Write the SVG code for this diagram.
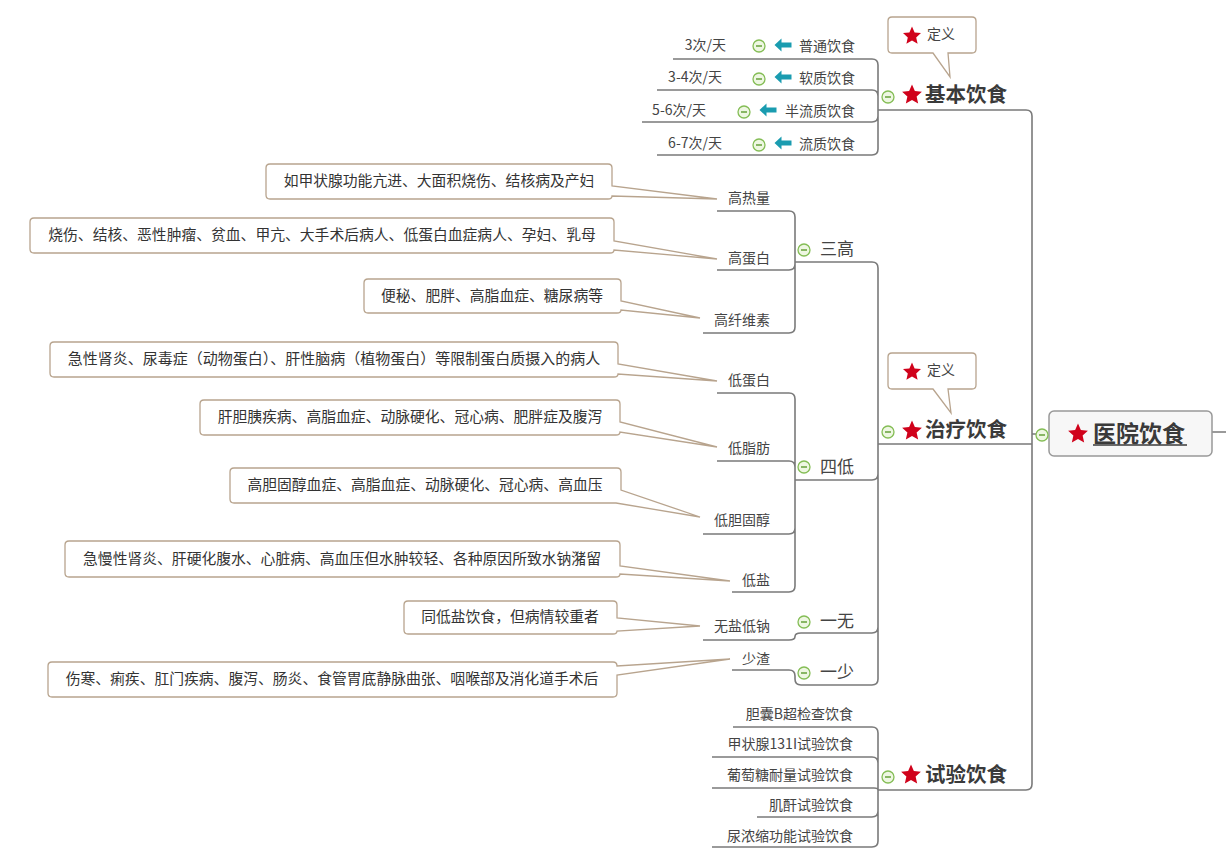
<svg xmlns="http://www.w3.org/2000/svg" xmlns:xlink="http://www.w3.org/1999/xlink" width="1226" height="865" viewBox="0 0 1226 865">
<defs>
<style>
text{font-family:"Noto Sans CJK SC","Noto Sans",sans-serif;fill:#444}
.t{font-size:14px}
.te{font-size:14px;text-anchor:end}
.m{font-size:17px}
.b{font-size:20.5px;font-weight:bold;fill:#3a3a3a}
.c{font-size:14.8px;text-anchor:middle;fill:#333}
.ln{fill:none;stroke:#7a7a7a;stroke-width:1.6}
.co{fill:#fff;stroke:#b8a48e;stroke-width:1.3}
.star{fill:#d0021b}
.arr{fill:#1a9cb0}
</style>
<path id="star" class="star" d="M0,-9.5 L2.6,-3.6 L9,-2.9 L4.2,1.4 L5.6,7.7 L0,4.5 L-5.6,7.7 L-4.2,1.4 L-9,-2.9 L-2.6,-3.6 Z"/>
<g id="col"><circle r="6" fill="#eef7e2" stroke="#84bd55" stroke-width="1.3"/><line x1="-3" y1="0" x2="3" y2="0" stroke="#5c9a2e" stroke-width="1.4"/></g>
<path id="arrow" class="arr" d="M-8.5,0 L-1.5,-6.5 L-1.5,-2.5 L8.5,-2.5 L8.5,2.5 L-1.5,2.5 L-1.5,6.5 Z"/>
</defs>
<rect width="1226" height="865" fill="#fff"/>

<g id="connectors">
<path class="ln" d="M1036 434 H1032 M1026 110 Q1032 110 1032 116 V784 Q1032 790 1026 790 M878 110 H1026 M878 444 H1032 M878 790 H1026 M1212 432 H1226"/>
<path class="ln" d="M878 110 V65 Q878 59 872 59 H673 M878 110 V96 Q878 90 872 90 H657 M878 110 V116 Q878 122 872 122 H642 M878 110 V149 Q878 155 872 155 H657"/>
<path class="ln" d="M878 444 V268 Q878 262 872 262 H795 M878 444 V474 Q878 480 872 480 H795 M878 444 V627 Q878 633 872 633 H801 Q795 633 795 636.5 Q795 640 789 640 H703 M878 444 V679 Q878 685 872 685 H801 Q795 685 795 679 V676 Q795 670 789 670 H732"/>
<path class="ln" d="M795 262 V217 Q795 211 789 211 H717 M795 262 V264 Q795 270 789 270 H717 M795 262 V327 Q795 333 789 333 H703"/>
<path class="ln" d="M795 480 V399 Q795 393 789 393 H717 M795 480 V467 Q795 461 789 461 H717 M795 480 V528 Q795 534 789 534 H703 M795 480 V586 Q795 592 789 592 H732"/>
<path class="ln" d="M878 790 V733 Q878 727 872 727 H733 M878 790 V763 Q878 757 872 757 H712 M878 790 Q878 788 874 788 H712 M878 790 V811 Q878 817 872 817 H757 M878 790 V841 Q878 847 872 847 H712"/>
</g>

<g id="root">
<rect x="1049" y="411" width="163" height="45" rx="5" fill="#f7f7f7" stroke="#999" stroke-width="1.5"/>
<use xlink:href="#star" transform="translate(1078,434) scale(1.1)"/>
<text x="1093" y="442" style="font-size:23px;font-weight:bold;fill:#3a3a3a">医院饮食</text>
<line x1="1093" y1="445" x2="1187" y2="445" stroke="#3a3a3a" stroke-width="1.6"/>
<use xlink:href="#col" x="1042" y="435"/>
</g>

<g id="jiben">
<use xlink:href="#col" x="888" y="97"/>
<use xlink:href="#star" transform="translate(912,95) scale(1.1)"/>
<text class="b" x="925" y="102">基本饮食</text>
</g>
<g id="jiben-def">
<path class="co" d="M892 17 H972 Q976 17 976 21 V49 Q976 53 972 53 H948 L950 77 L933 53 H892 Q888 53 888 49 V21 Q888 17 892 17 Z"/>
<use xlink:href="#star" transform="translate(912,36)"/>
<text class="t" x="927" y="39">定义</text>
</g>
<g id="putong">
<text class="te" x="855" y="51">普通饮食</text><use xlink:href="#arrow" x="783" y="45"/><use xlink:href="#col" x="759" y="46"/>
<text class="te" x="726" y="50">3次/天</text>
</g>
<g id="ruanzhi">
<text class="te" x="855" y="83">软质饮食</text><use xlink:href="#arrow" x="783" y="77"/><use xlink:href="#col" x="759" y="79"/>
<text class="te" x="722" y="82">3-4次/天</text>
</g>
<g id="banliu">
<text class="te" x="855" y="116">半流质饮食</text><use xlink:href="#arrow" x="768" y="110"/><use xlink:href="#col" x="744" y="112"/>
<text class="te" x="706" y="115">5-6次/天</text>
</g>
<g id="liuzhi">
<text class="te" x="855" y="149">流质饮食</text><use xlink:href="#arrow" x="783" y="143"/><use xlink:href="#col" x="759" y="145"/>
<text class="te" x="722" y="148">6-7次/天</text>
</g>

<g id="zhiliao">
<use xlink:href="#col" x="888" y="432"/>
<use xlink:href="#star" transform="translate(912,431) scale(1.1)"/>
<text class="b" x="925" y="437">治疗饮食</text>
</g>
<g id="zhiliao-def">
<path class="co" d="M892 353 H972 Q976 353 976 357 V385 Q976 389 972 389 H948 L951 413 L933 389 H892 Q888 389 888 385 V357 Q888 353 892 353 Z"/>
<use xlink:href="#star" transform="translate(912,372)"/>
<text class="t" x="927" y="375">定义</text>
</g>

<g id="sangao"><use xlink:href="#col" x="804" y="250"/><text class="m" x="820" y="255">三高</text></g>
<g id="sidi"><use xlink:href="#col" x="804" y="467"/><text class="m" x="820" y="473">四低</text></g>
<g id="yiwu"><use xlink:href="#col" x="804" y="622"/><text class="m" x="820" y="627">一无</text></g>
<g id="yishao"><use xlink:href="#col" x="804" y="673"/><text class="m" x="820" y="678">一少</text></g>

<g id="gaoreliang"><text class="te" x="770" y="203">高热量</text></g>
<g id="gaodanbai"><text class="te" x="770" y="263">高蛋白</text></g>
<g id="gaoxianwei"><text class="te" x="770" y="325">高纤维素</text></g>
<g id="didanbai"><text class="te" x="770" y="385">低蛋白</text></g>
<g id="dizhifang"><text class="te" x="770" y="453">低脂肪</text></g>
<g id="didanguchun"><text class="te" x="770" y="525">低胆固醇</text></g>
<g id="diyan"><text class="te" x="770" y="585">低盐</text></g>
<g id="wuyan"><text class="te" x="770" y="631">无盐低钠</text></g>
<g id="shaozha"><text class="te" x="770" y="664">少渣</text></g>

<g id="note1"><path class="co" d="M270 164 H608 Q612 164 612 168 V186 L717 199 L612 196 Q612 199 608 199 H270 Q266 199 266 195 V168 Q266 164 270 164 Z"/><text class="c" x="439" y="186">如甲状腺功能亢进、大面积烧伤、结核病及产妇</text></g>
<g id="note2"><path class="co" d="M34 218 H610 Q614 218 614 222 V241 L717 259 L614 250 Q614 253 610 253 H34 Q30 253 30 249 V222 Q30 218 34 218 Z"/><text class="c" x="322" y="240">烧伤、结核、恶性肿瘤、贫血、甲亢、大手术后病人、低蛋白血症病人、孕妇、乳母</text></g>
<g id="note3"><path class="co" d="M368 279 H617 Q621 279 621 283 V301 L700 318 L621 310 Q621 313 617 313 H368 Q364 313 364 309 V283 Q364 279 368 279 Z"/><text class="c" x="492" y="301">便秘、肥胖、高脂血症、糖尿病等</text></g>
<g id="note4"><path class="co" d="M54 342 H614 Q618 342 618 346 V364 L717 381 L618 374 Q618 377 614 377 H54 Q50 377 50 373 V346 Q50 342 54 342 Z"/><text class="c" x="334" y="364" style="font-size:15px">急性肾炎、尿毒症（动物蛋白）、肝性脑病（植物蛋白）等限制蛋白质摄入的病人</text></g>
<g id="note5"><path class="co" d="M204 400 H616 Q620 400 620 404 V422 L717 447 L620 432 Q620 435 616 435 H204 Q200 435 200 431 V404 Q200 400 204 400 Z"/><text class="c" x="410" y="422">肝胆胰疾病、高脂血症、动脉硬化、冠心病、肥胖症及腹泻</text></g>
<g id="note6"><path class="co" d="M234 468 H617 Q621 468 621 472 V490 L700 517 L616 503 H234 Q230 503 230 499 V472 Q230 468 234 468 Z"/><text class="c" x="425" y="490">高胆固醇血症、高脂血症、动脉硬化、冠心病、高血压</text></g>
<g id="note7"><path class="co" d="M69 541 H616 Q620 541 620 545 V566 L730 581 L620 574 Q620 577 616 577 H69 Q65 577 65 573 V545 Q65 541 69 541 Z"/><text class="c" x="342" y="564">急慢性肾炎、肝硬化腹水、心脏病、高血压但水肿较轻、各种原因所致水钠潴留</text></g>
<g id="note8"><path class="co" d="M408 601 H613 Q617 601 617 605 V618 L700 626 L617 631 Q617 634 613 634 H408 Q404 634 404 630 V605 Q404 601 408 601 Z"/><text class="c" x="510" y="622">同低盐饮食，但病情较重者</text></g>
<g id="note9"><path class="co" d="M52 662 H613 Q617 662 617 666 L730 659 L617 675 V693 Q617 697 613 697 H52 Q48 697 48 693 V666 Q48 662 52 662 Z"/><text class="c" x="332" y="684">伤寒、痢疾、肛门疾病、腹泻、肠炎、食管胃底静脉曲张、咽喉部及消化道手术后</text></g>

<g id="shiyan">
<use xlink:href="#col" x="888" y="777"/>
<use xlink:href="#star" transform="translate(911,775) scale(1.1)"/>
<text class="b" x="925" y="782">试验饮食</text>
</g>
<g id="dannang"><text class="te" x="853" y="719">胆囊B超检查饮食</text></g>
<g id="jiazhuangxian"><text class="te" x="853" y="749">甲状腺131I试验饮食</text></g>
<g id="putaotang"><text class="te" x="853" y="780">葡萄糖耐量试验饮食</text></g>
<g id="jigan"><text class="te" x="853" y="810">肌酐试验饮食</text></g>
<g id="niaonongsuo"><text class="te" x="853" y="841">尿浓缩功能试验饮食</text></g>
</svg>
